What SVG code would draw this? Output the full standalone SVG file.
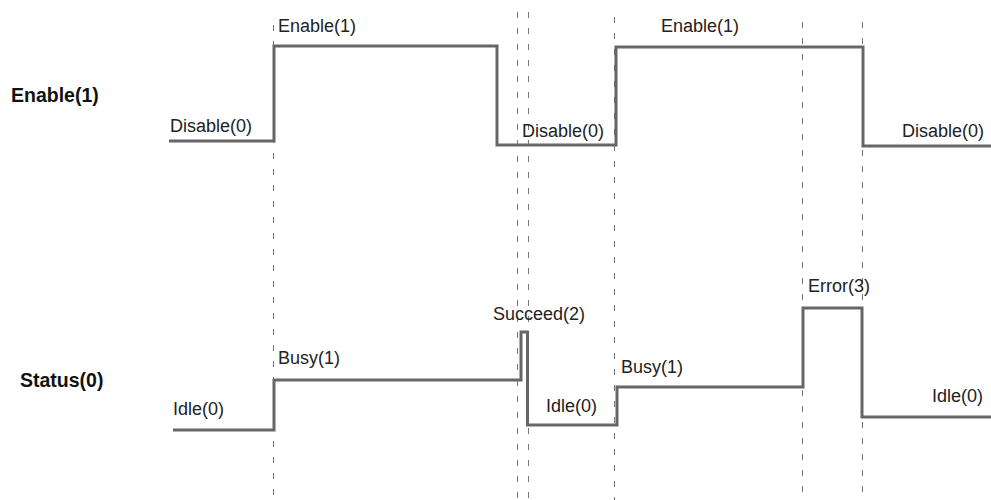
<svg xmlns="http://www.w3.org/2000/svg" width="991" height="500" viewBox="0 0 991 500">
<style>
.sig{fill:none;stroke:#666;stroke-width:3;stroke-linejoin:miter}
.grid{stroke:#777;stroke-width:1;stroke-dasharray:6 10;fill:none}
.lbl{font-family:"Liberation Sans",Arial,sans-serif;font-size:18px;fill:#222}
.ttl{font-family:"Liberation Sans",Arial,sans-serif;font-size:19.5px;font-weight:bold;fill:#111}
</style>
<defs>
<clipPath id="errclip"><rect x="800" y="279" width="100" height="30"/></clipPath>
</defs>
<rect width="991" height="500" fill="#fff"/>
<g id="guides">
<line class="grid" x1="273.5" y1="25" x2="273.5" y2="500"/>
<line class="grid" x1="517.5" y1="12" x2="517.5" y2="500"/>
<line class="grid" x1="528.5" y1="12" x2="528.5" y2="500"/>
<line class="grid" x1="614.5" y1="17" x2="614.5" y2="500"/>
<line class="grid" x1="802.5" y1="22" x2="802.5" y2="500"/>
<line class="grid" x1="862.5" y1="22" x2="862.5" y2="500"/>
</g>
<g id="enable-signal">
<text class="ttl" x="11" y="102">Enable(1)</text>
<polyline class="sig" points="169,141 274,141 274,46 497,46 497,145 616,145 616,47 863,47 863,146 991,146"/>
<text class="lbl" x="170" y="132">Disable(0)</text>
<text class="lbl" x="278" y="32">Enable(1)</text>
<text class="lbl" x="522" y="137">Disable(0)</text>
<text class="lbl" x="661" y="32">Enable(1)</text>
<text class="lbl" x="902" y="137">Disable(0)</text>
</g>
<g id="status-signal">
<text class="ttl" x="20" y="387">Status(0)</text>
<polyline class="sig" points="173,430 274,430 274,380 521,380 521,332 527.5,332 527.5,425 617,425 617,387 803,387 803,308 862,308 862,417 991,417"/>
<text class="lbl" x="173" y="415">Idle(0)</text>
<text class="lbl" x="278" y="364">Busy(1)</text>
<text class="lbl" x="493" y="320">Succeed(2)</text>
<text class="lbl" x="546" y="412">Idle(0)</text>
<text class="lbl" x="621" y="373">Busy(1)</text>
<text class="lbl" x="808" y="292" clip-path="url(#errclip)">Error(3)</text>
<text class="lbl" x="932" y="402">Idle(0)</text>
</g>
</svg>
